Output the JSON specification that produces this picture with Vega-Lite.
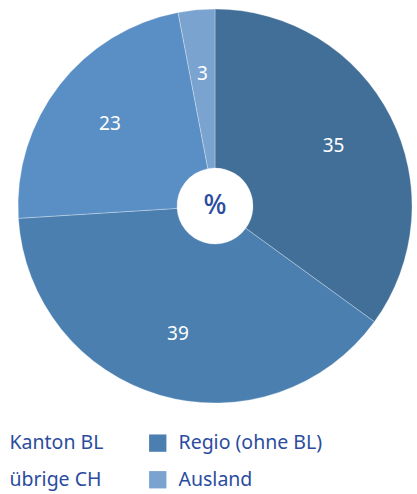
{
  "$schema": "https://vega.github.io/schema/vega-lite/v6.json",
  "width": 430,
  "height": 412,
  "autosize": "none",
  "padding": {"left": 0, "top": 0, "right": 0, "bottom": 82},
  "background": "white",
  "config": {"view": {"stroke": null}, "font": "Noto Sans"},
  "data": {
    "values": [
      {"region": "Kanton BL", "anteil": 35, "ord": 1},
      {"region": "Regio (ohne BL)", "anteil": 39, "ord": 2},
      {"region": "übrige CH", "anteil": 23, "ord": 3},
      {"region": "Ausland", "anteil": 3, "ord": 4}
    ]
  },
  "layer": [
    {
      "mark": {"type": "arc", "outerRadius": 197, "innerRadius": 38, "stroke": "#ffffff", "strokeWidth": 0.3},
      "encoding": {
        "theta": {"field": "anteil", "type": "quantitative", "stack": true},
        "order": {"field": "ord", "type": "quantitative"},
        "color": {
          "field": "region",
          "type": "nominal",
          "scale": {
            "domain": ["Kanton BL", "Regio (ohne BL)", "übrige CH", "Ausland"],
            "range": ["#416f98", "#4a7fb0", "#5a8fc5", "#7aa3d0"]
          },
          "legend": {
            "orient": "none",
            "legendX": -21,
            "legendY": 433,
            "direction": "horizontal",
            "columns": 2,
            "title": null,
            "symbolType": "square",
            "symbolSize": 300,
            "symbolStrokeWidth": 0,
            "labelFontSize": 19.5,
            "labelColor": "#2b4c9e",
            "labelOffset": 11,
            "columnPadding": 44,
            "rowPadding": 16,
            "labelLimit": 300
          }
        }
      }
    },
    {
      "mark": {"type": "text", "radius": 133, "fontSize": 19, "color": "white"},
      "encoding": {
        "theta": {"field": "anteil", "type": "quantitative", "stack": true},
        "order": {"field": "ord", "type": "quantitative"},
        "text": {"field": "anteil", "type": "quantitative"}
      }
    },
    {
      "data": {"values": [{"symbol": "%"}]},
      "mark": {"type": "text", "fontSize": 27, "fontWeight": 500, "color": "#2b4c9e", "baseline": "middle", "align": "center"},
      "encoding": {"text": {"field": "symbol", "type": "nominal"}}
    }
  ]
}
